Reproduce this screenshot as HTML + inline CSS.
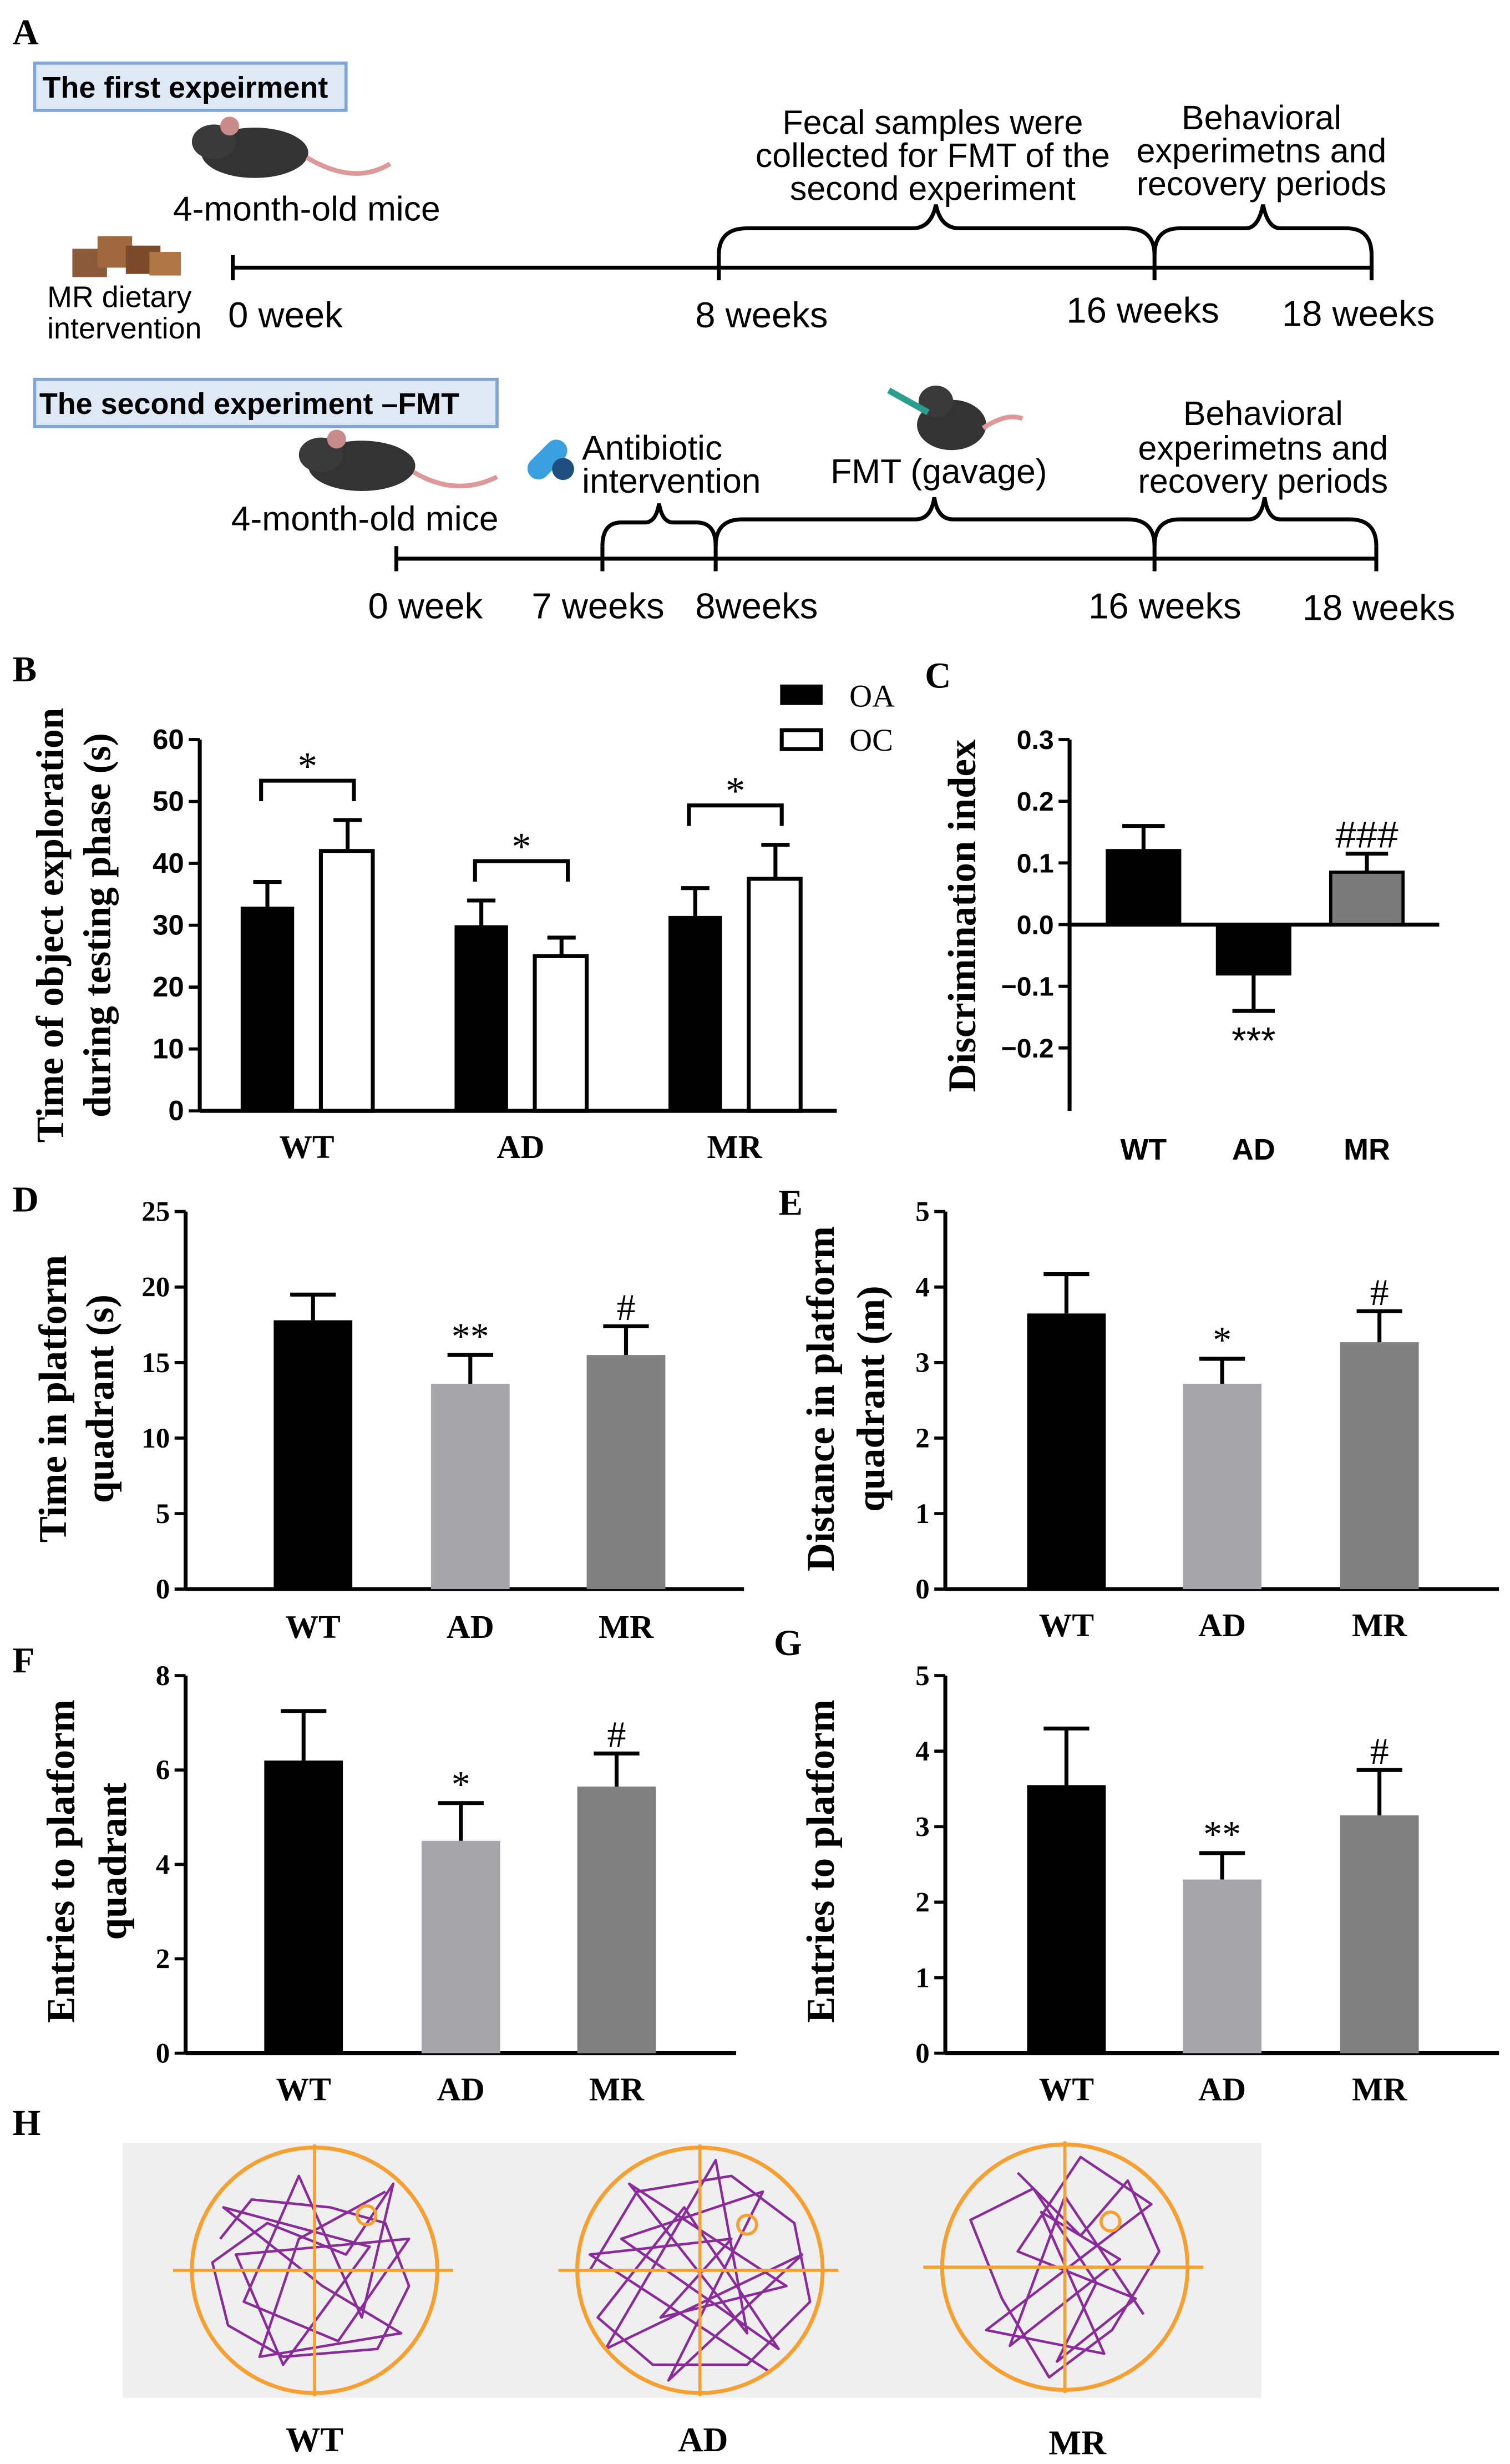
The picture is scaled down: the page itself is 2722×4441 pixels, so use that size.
<!DOCTYPE html>
<html><head><meta charset="utf-8"><style>
html,body{margin:0;padding:0;background:#fff}
svg{display:block}
.sans{font-family:"Liberation Sans",sans-serif}
.serif{font-family:"Liberation Serif",serif}
</style></head><body>
<svg id="fig" width="2722" height="4441" viewBox="0 0 960 1566" xmlns="http://www.w3.org/2000/svg">
<rect width="960" height="1566" fill="#fff"/>
<g>
<text x="8" y="28" class="serif" font-size="23" font-weight="bold">A</text>
<rect x="22" y="40" width="198" height="30" fill="#dfe9f6" stroke="#7fa4d6" stroke-width="2"/>
<text x="27" y="62" class="sans" font-size="19" font-weight="bold">The first expeirment</text>
<g>
<ellipse cx="162" cy="97" rx="34" ry="16" fill="#333"/><ellipse cx="136" cy="90" rx="14" ry="11" fill="#3a3a3a"/>
<circle cx="146" cy="80" r="6" fill="#c98a8a"/><path d="M195 100 Q225 118 248 104" stroke="#d99" stroke-width="3" fill="none"/></g>
<text x="110" y="140" class="sans" font-size="22">4-month-old mice</text>
<g>
<rect x="46" y="158" width="22" height="18" fill="#8a5a3a"/><rect x="62" y="150" width="22" height="20" fill="#a0683f"/><rect x="80" y="156" width="22" height="18" fill="#7a4a2a"/><rect x="95" y="160" width="20" height="15" fill="#b07545"/></g>
<text x="30" y="195" class="sans" font-size="19">MR dietary</text>
<text x="30" y="215" class="sans" font-size="19">intervention</text>
<g stroke="#000" stroke-width="2.5" fill="none">
<line x1="148" y1="170" x2="872" y2="170"/>
<line x1="148" y1="162" x2="148" y2="178"/><line x1="457" y1="162" x2="457" y2="178"/><line x1="734" y1="162" x2="734" y2="178"/><line x1="872" y1="162" x2="872" y2="178"/>
<path d="M457 162 Q457 145 475 145 L580 145 Q592 145 595 130 Q598 145 610 145 L716 145 Q734 145 734 162"/>
<path d="M734 162 Q734 145 750 145 L792 145 Q800 145 803 130 Q806 145 814 145 L856 145 Q872 145 872 162"/>
</g>
<g class="sans" font-size="23">
<text x="145" y="208">0 week</text>
<text x="442" y="208">8 weeks</text>
<text x="678" y="205">16 weeks</text>
<text x="815" y="207">18 weeks</text></g>
<g class="sans" font-size="21.5" text-anchor="middle">
<text x="593" y="85">Fecal samples were</text><text x="593" y="106">collected for FMT of the</text><text x="593" y="127">second experiment</text>
<text x="802" y="82">Behavioral</text><text x="802" y="103">experimetns and</text><text x="802" y="124">recovery periods</text>
</g>
<rect x="22" y="241" width="294" height="30" fill="#dfe9f6" stroke="#7fa4d6" stroke-width="2"/>
<text x="25" y="263" class="sans" font-size="19" font-weight="bold">The second experiment –FMT</text>
<g>
<ellipse cx="230" cy="296" rx="34" ry="16" fill="#333"/><ellipse cx="204" cy="289" rx="14" ry="11" fill="#3a3a3a"/>
<circle cx="214" cy="279" r="6" fill="#c98a8a"/><path d="M263 300 Q290 316 316 303" stroke="#d99" stroke-width="3" fill="none"/></g>
<text x="147" y="337" class="sans" font-size="22">4-month-old mice</text>
<g>
<rect x="333" y="285" width="30" height="14" rx="7" fill="#3aa0e0" transform="rotate(-45 348 292)"/><circle cx="358" cy="298" r="7" fill="#1e4f80"/></g>
<text x="370" y="292" class="sans" font-size="22">Antibiotic</text>
<text x="370" y="313" class="sans" font-size="22">intervention</text>
<g>
<ellipse cx="605" cy="270" rx="22" ry="16" fill="#333"/><ellipse cx="595" cy="255" rx="11" ry="10" fill="#3a3a3a"/>
<line x1="565" y1="248" x2="590" y2="262" stroke="#2a9d8f" stroke-width="4"/><path d="M625 272 Q640 262 650 266" stroke="#d99" stroke-width="3" fill="none"/></g>
<text x="528" y="307" class="sans" font-size="22">FMT (gavage)</text>
<g class="sans" font-size="21.5" text-anchor="middle">
<text x="803" y="270">Behavioral</text><text x="803" y="292">experimetns and</text><text x="803" y="313">recovery periods</text></g>
<g stroke="#000" stroke-width="2.5" fill="none">
<line x1="252" y1="355" x2="875" y2="355"/>
<line x1="252" y1="347" x2="252" y2="363"/><line x1="383" y1="347" x2="383" y2="363"/><line x1="455" y1="347" x2="455" y2="363"/><line x1="734" y1="347" x2="734" y2="363"/><line x1="875" y1="347" x2="875" y2="363"/>
<path d="M383 347 Q383 332 395 332 L410 332 Q417 332 419 320 Q421 332 428 332 L443 332 Q455 332 455 347"/>
<path d="M455 347 Q455 330 472 330 L582 330 Q592 330 594 316 Q596 330 606 330 L717 330 Q734 330 734 347"/>
<path d="M734 347 Q734 330 750 330 L794 330 Q802 330 804 316 Q806 330 814 330 L858 330 Q875 330 875 347"/>
</g>
<g class="sans" font-size="23">
<text x="234" y="393">0 week</text><text x="338" y="393">7 weeks</text><text x="442" y="393">8weeks</text><text x="692" y="393">16 weeks</text><text x="828" y="394">18 weeks</text></g>
</g>
<g id="charts"></g>
<g>
<text x="8" y="1357" class="serif" font-size="23" font-weight="bold">H</text>
<rect x="78" y="1362" width="724" height="162" fill="#efefef"/>
<g id="tracks"></g>
<g class="serif" font-size="22" font-weight="bold" text-anchor="middle">
<text x="200" y="1558">WT</text><text x="447" y="1558">AD</text><text x="685" y="1560">MR</text></g>
</g>
</svg>
<script>
const NS="http://www.w3.org/2000/svg";
const bCategories=["WT","AD","MR"];
const bOA=[33,30,31.5];
const bOAerr=[4,4,4.5];
const bOC=[42,25,37.5];
const bOCerr=[5,3,5.5];
const bTicks=[0,10,20,30,40,50,60];
const cCategories=["WT","AD","MR"];
const cValues=[0.12,-0.08,0.085];
const cErr=[0.04,0.06,0.03];
const cTicks=[-0.2,-0.1,0.0,0.1,0.2,0.3];
const cMarks=["","***","###"];
const dCategories=["WT","AD","MR"];
const dValues=[17.8,13.6,15.5];
const dErr=[1.7,1.9,1.9];
const dTicks=[0,5,10,15,20,25];
const dMarks=["","**","#"];
const eValues=[3.65,2.72,3.27];
const eErr=[0.52,0.33,0.41];
const eTicks=[0,1,2,3,4,5];
const eMarks=["","*","#"];
const fValues=[6.2,4.5,5.65];
const fErr=[1.05,0.8,0.7];
const fTicks=[0,2,4,6,8];
const fMarks=["","*","#"];
const gValues=[3.55,2.3,3.15];
const gErr=[0.75,0.35,0.6];
const gTicks=[0,1,2,3,4,5];
const gMarks=["","**","#"];

const root=document.getElementById('charts');
function mk(tag,attrs,parent,text){const e=document.createElementNS(NS,tag);for(const k in attrs)e.setAttribute(k,attrs[k]);if(text!==undefined)e.textContent=text;(parent||root).appendChild(e);return e;}

function barPanel(o){
  const g=mk('g',{});
  
  
  const y=v=>o.y0-(v-o.min)/(o.max-o.min)*(o.y0-o.y1);
  const base=y(o.base||0);
  const pl=mk('text',{x:o.lx,y:o.ly,'font-size':23,'font-weight':'bold',class:'serif'},g,o.letter);
  
  
  o.ticks.forEach(t=>{
    mk('line',{x1:o.ax-7,x2:o.ax,y1:y(t),y2:y(t),stroke:'#000','stroke-width':2},g);
    const tl=mk('text',{x:o.ax-10,y:y(t)+6,'text-anchor':'end','font-size':o.tfs||18,'font-weight':'bold',class:o.tf||'serif'},g,o.fmt?o.fmt(t):t);
    
    
  });
  mk('line',{x1:o.ax,x2:o.ax,y1:o.y1,y2:o.yAxisBottom||o.y0,stroke:'#000','stroke-width':2.5},g);
  mk('line',{x1:o.ax,x2:o.xEnd,y1:base,y2:base,stroke:'#000','stroke-width':2.5},g);
  o.values.forEach((v,i)=>{
    const x=o.xs[i],w=o.bw,yt=y(v);
    const r=mk('rect',{x:x,y:Math.min(yt,base),width:w,height:Math.abs(base-yt),fill:o.colors[i],stroke:'#000','stroke-width':o.stroke||0},g);
    
    
    const sign=v>=0?1:-1;const ye=y(v+sign*o.err[i]);
    mk('line',{x1:x+w/2,x2:x+w/2,y1:yt,y2:ye,stroke:'#000','stroke-width':2.5},g);
    mk('line',{x1:x+w/2-w/4-2,x2:x+w/2+w/4+2,y1:ye,y2:ye,stroke:'#000','stroke-width':2.5},g);
    if(o.marks&&o.marks[i]){
      const my=sign>0?ye-4:ye+27;
      const m=mk('text',{x:x+w/2,y:my,'text-anchor':'middle','font-size':24,class:o.mf||'serif'},g,o.marks[i]);
      
      
    }
    const cl=mk('text',{x:x+w/2,y:o.catY,'text-anchor':'middle','font-size':o.cfs||21,'font-weight':'bold',class:o.cf||'serif'},g,o.cats[i]);
    
    
  });
  o.titles.forEach((t,k)=>{
    const tt=mk('text',{x:0,y:0,'text-anchor':'middle','font-size':25,'font-weight':'bold',class:'serif',transform:`translate(${o.tx[k]},${o.ty}) rotate(-90)`},g,t);
    
    
  });
}

(function(){
  const g=mk('g',{});
  
  
  const ax=127,y0=706,y1=470,max=60;
  const y=v=>y0-v/max*(y0-y1);
  mk('text',{x:8,y:433,'font-size':23,'font-weight':'bold',class:'serif'},g,'B');
  bTicks.forEach(t=>{mk('line',{x1:ax-7,x2:ax,y1:y(t),y2:y(t),stroke:'#000','stroke-width':2},g);
    const l=mk('text',{x:ax-10,y:y(t)+6,'text-anchor':'end','font-size':18,'font-weight':'bold',class:'sans'},g,t);
    
    });
  mk('line',{x1:ax,x2:ax,y1:y1,y2:y0,stroke:'#000','stroke-width':2.5},g);
  mk('line',{x1:ax,x2:532,y1:y0,y2:y0,stroke:'#000','stroke-width':2.5},g);
  const gx=[153,289,425],bw=34;
  bCategories.forEach((c,i)=>{
    const xo=gx[i],xc=gx[i]+51;
    const r1=mk('rect',{x:xo,y:y(bOA[i]),width:bw,height:y0-y(bOA[i]),fill:'#000'},g);
    
    
    const r2=mk('rect',{x:xc,y:y(bOC[i]),width:bw-1,height:y0-y(bOC[i]),fill:'#fff',stroke:'#000','stroke-width':2.5},g);
    
    
    [[xo,bOA[i],bOAerr[i]],[xc,bOC[i],bOCerr[i]]].forEach(([x,v,e])=>{
      mk('line',{x1:x+bw/2,x2:x+bw/2,y1:y(v),y2:y(v+e),stroke:'#000','stroke-width':2.5},g);
      mk('line',{x1:x+bw/2-9,x2:x+bw/2+9,y1:y(v+e),y2:y(v+e),stroke:'#000','stroke-width':2.5},g);
    });
    const top=Math.max(bOA[i]+bOAerr[i],bOC[i]+bOCerr[i]);
    const by=y(top)-25,l=xo+bw/2-4,rr=xc+bw/2+4;
    mk('path',{d:`M${l} ${by+13} L${l} ${by} L${rr} ${by} L${rr} ${by+13}`,stroke:'#000','stroke-width':2.5,fill:'none'},g);
    const s=mk('text',{x:(l+rr)/2,y:by-1,'text-anchor':'middle','font-size':25,class:'serif'},g,'*');
    
    
    const cl=mk('text',{x:xo+42,y:736,'text-anchor':'middle','font-size':21,'font-weight':'bold',class:'serif'},g,c);
    
    
  });
  ['Time of object exploration','during testing phase (s)'].forEach((t,k)=>{
    const tt=mk('text',{x:0,y:0,'text-anchor':'middle','font-size':24.5,'font-weight':'bold',class:'serif',transform:`translate(${40+k*30},588) rotate(-90)`},g,t);
    
    
  });
  const lg=mk('g',{},g);
  
  
  mk('rect',{x:496,y:435,width:27,height:13,fill:'#000'},lg);
  mk('text',{x:540,y:449,'font-size':20,class:'serif'},lg,'OA');
  mk('rect',{x:497,y:464,width:25,height:12,fill:'#fff',stroke:'#000','stroke-width':2.5},lg);
  mk('text',{x:540,y:477,'font-size':20,class:'serif'},lg,'OC');
})();

barPanel({name:'panel-c',letter:'C',lx:588,ly:437,ax:680,y0:666,y1:470,min:-0.2,max:0.3,yAxisBottom:706,xEnd:915,
  ticks:cTicks,fmt:t=>t.toFixed(1).replace('-','−'),tf:'sans',tfs:17,values:cValues,err:cErr,cats:cCategories,xs:[704,774,846],bw:46,
  colors:['#000','#000','#7a7a7a'],stroke:2,marks:cMarks,mf:'sans',catY:737,cf:'sans',cfs:19,titles:['Discrimination index'],tx:[620],ty:582});
barPanel({name:'panel-d',letter:'D',lx:8,ly:770,ax:118,y0:1010,y1:770,min:0,max:25,xEnd:473,ticks:dTicks,values:dValues,err:dErr,
  cats:dCategories,xs:[174,274,373],bw:50,colors:['#000','#a6a5aa','#808080'],marks:dMarks,catY:1041,titles:['Time in platform','quadrant (s)'],tx:[42,72],ty:889});
barPanel({name:'panel-e',letter:'E',lx:495,ly:772,ax:601,y0:1010,y1:770,min:0,max:5,xEnd:953,ticks:eTicks,values:eValues,err:eErr,
  cats:dCategories,xs:[653,752,852],bw:50,colors:['#000','#a6a5aa','#808080'],marks:eMarks,catY:1040,titles:['Distance in platform','quadrant (m)'],tx:[530,562],ty:889});
barPanel({name:'panel-f',letter:'F',lx:8,ly:1063,ax:118,y0:1305,y1:1065,min:0,max:8,xEnd:468,ticks:fTicks,values:fValues,err:fErr,
  cats:dCategories,xs:[168,268,367],bw:50,colors:['#000','#a6a5aa','#808080'],marks:fMarks,catY:1335,titles:['Entries to platform','quadrant'],tx:[47,80],ty:1183});
barPanel({name:'panel-g',letter:'G',lx:492,ly:1052,ax:601,y0:1305,y1:1065,min:0,max:5,xEnd:953,ticks:gTicks,values:gValues,err:gErr,
  cats:dCategories,xs:[653,752,852],bw:50,colors:['#000','#a6a5aa','#808080'],marks:gMarks,catY:1335,titles:['Entries to platform'],tx:[530],ty:1183});

const tr=document.getElementById('tracks');
const pools=[[200,1443,233,1408,'wt'],[445,1443,475,1414,'ad'],[677,1441,706,1412,'mr']];
const paths={
 wt:"M-60 -20 L-40 -45 L10 -40 L45 -30 L60 10 L40 50 L-20 55 L-55 35 L-65 -5 L-30 -30 L20 -10 L50 -55 L30 30 L-10 -60 L-45 20 L15 45 L60 -20 L-50 -10 L-20 60 L35 -15 L-58 -40 L5 10 L55 40 L-35 55 L-10 -20 L45 -50",
 ad:"M-70 0 L-40 -50 L20 -60 L60 -30 L70 20 L30 60 L-30 60 L-65 30 L-10 -40 L50 50 L-50 -20 L40 -50 L-20 70 L65 -10 L-60 50 L10 -70 L30 40 L-45 -55 L55 10 L-25 30 L20 -20 L-70 -10 L45 65",
 mr:"M-30 -60 L10 -20 L40 -55 L60 -10 L30 40 L-10 70 L-40 20 L-60 -30 L-20 -50 L20 10 L-5 60 L45 20 L-30 -10 L10 -70 L55 -40 L-50 40 L25 55 L-15 -35 L35 -5 L-35 50 L0 -45 L50 30"};
pools.forEach(([cx,cy,px,py,k])=>{
  const g=mk('g',{},tr);
  
  
  mk('path',{d:paths[k],transform:`translate(${cx},${cy})`,stroke:'#8a2b9a','stroke-width':1.6,fill:'none','stroke-linejoin':'round'},g);
  mk('circle',{cx:cx,cy:cy,r:78,fill:'none',stroke:'#f5a030','stroke-width':2.5},g);
  mk('line',{x1:cx-90,x2:cx+88,y1:cy,y2:cy,stroke:'#f5a030','stroke-width':2},g);
  mk('line',{x1:cx,x2:cx,y1:cy-80,y2:cy+80,stroke:'#f5a030','stroke-width':2},g);
  mk('circle',{cx:px,cy:py,r:6,fill:'none',stroke:'#f5a030','stroke-width':2},g);
});
</script>
</body></html>
